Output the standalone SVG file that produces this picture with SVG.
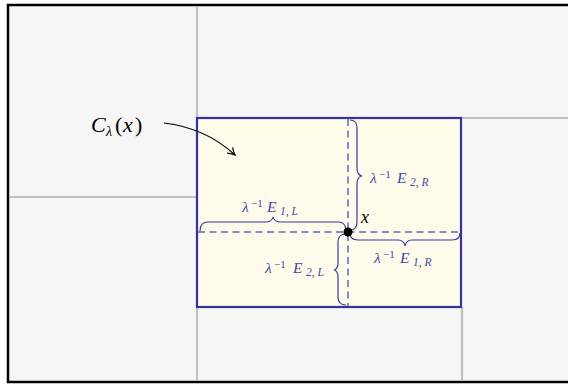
<svg xmlns="http://www.w3.org/2000/svg" width="568" height="386" viewBox="0 0 568 386">
<defs>
<style>
.grid{stroke:#c0c0c0;stroke-width:2.2;fill:none}
.dash{stroke:#8a8ac8;stroke-width:2;stroke-dasharray:7,4.5;fill:none}
.brace{stroke:#3a3a9c;stroke-width:1.2;fill:none}
.lbl{font-family:"Liberation Serif",serif;font-style:italic;font-size:15.5px;fill:#4848a8}
.sup{font-size:11px;font-style:normal}
.sub{font-size:11.5px}
.n{font-style:normal}
</style>
<marker id="arr" markerWidth="12" markerHeight="12" refX="8" refY="5" orient="auto" markerUnits="userSpaceOnUse">
<path d="M1,1 Q5,4 8,5 Q5,6 1,9" fill="none" stroke="#000" stroke-width="1.2"/>
</marker>
</defs>
<rect x="0" y="0" width="568" height="386" fill="#ffffff"/>
<g id="background">
<rect x="8" y="5" width="580" height="377" fill="#f6f6f6" stroke="#000" stroke-width="2.5"/>
<line class="grid" x1="197" y1="6" x2="197" y2="381"/>
<line class="grid" x1="9" y1="197" x2="197" y2="197"/>
<line class="grid" x1="461" y1="118" x2="568" y2="118"/>
<line class="grid" x1="462" y1="307" x2="462" y2="381"/>
</g>
<g id="cell">
<rect x="197" y="118" width="264" height="189" fill="#fefbea" stroke="#333399" stroke-width="2.2"/>
</g>
<g id="axes">
<line class="dash" x1="348" y1="119" x2="348" y2="306"/>
<line class="dash" x1="198" y1="232" x2="460" y2="232"/>
</g>
<g id="connectors">
<path d="M164,123 Q206,128 235,155" fill="none" stroke="#000" stroke-width="1.2" marker-end="url(#arr)"/>
</g>
<g id="braces">
<path class="brace" d="M200,231 Q200,222 208,222 L265,222 Q272,222 273,217 Q274,222 281,222 L338,222 Q346,222 346,231"/>
<path class="brace" d="M350,120 Q357,120 357,128 L357,168 Q357,175 362,176 Q357,177 357,184 L357,222 Q357,230 350,230"/>
<path class="brace" d="M350,233 Q350,240 358,240 L398,240 Q404,240 405,246 Q406,240 412,240 L452,240 Q460,240 460,233"/>
<path class="brace" d="M346,234 Q338,234 338,242 L338,263 Q338,269 334,270 Q338,271 338,277 L338,297 Q338,305 346,305"/>
</g>
<g id="point">
<circle cx="348" cy="232" r="4.5" fill="#000"/>
<text x="361" y="223" font-family="Liberation Serif,serif" font-style="italic" font-size="18" fill="#000">x</text>
</g>
<g id="label-C">
<text y="132" font-family="Liberation Serif,serif" font-style="italic" font-size="22" fill="#000"><tspan x="91">C</tspan><tspan x="106" y="136" font-size="14">λ</tspan><tspan x="115" y="132" font-style="normal">(</tspan><tspan x="123">x</tspan><tspan x="135" font-style="normal">)</tspan></text>
</g>
<g id="label-E1L">
<text class="lbl" y="212"><tspan x="242">λ</tspan><tspan class="sup" x="251" y="207">−1</tspan><tspan x="267" y="212">E</tspan><tspan class="sub" x="280" y="215">1<tspan class="n">,</tspan> L</tspan></text>
</g>
<g id="label-E2R">
<text class="lbl" y="183"><tspan x="370">λ</tspan><tspan class="sup" x="379" y="178">−1</tspan><tspan x="397" y="183">E</tspan><tspan class="sub" x="410" y="186">2<tspan class="n">,</tspan> R</tspan></text>
</g>
<g id="label-E1R">
<text class="lbl" y="263"><tspan x="374">λ</tspan><tspan class="sup" x="383" y="258">−1</tspan><tspan x="400" y="263">E</tspan><tspan class="sub" x="413" y="266">1<tspan class="n">,</tspan> R</tspan></text>
</g>
<g id="label-E2L">
<text class="lbl" y="273"><tspan x="265">λ</tspan><tspan class="sup" x="274" y="268">−1</tspan><tspan x="293" y="273">E</tspan><tspan class="sub" x="306" y="276">2<tspan class="n">,</tspan> L</tspan></text>
</g>
</svg>
